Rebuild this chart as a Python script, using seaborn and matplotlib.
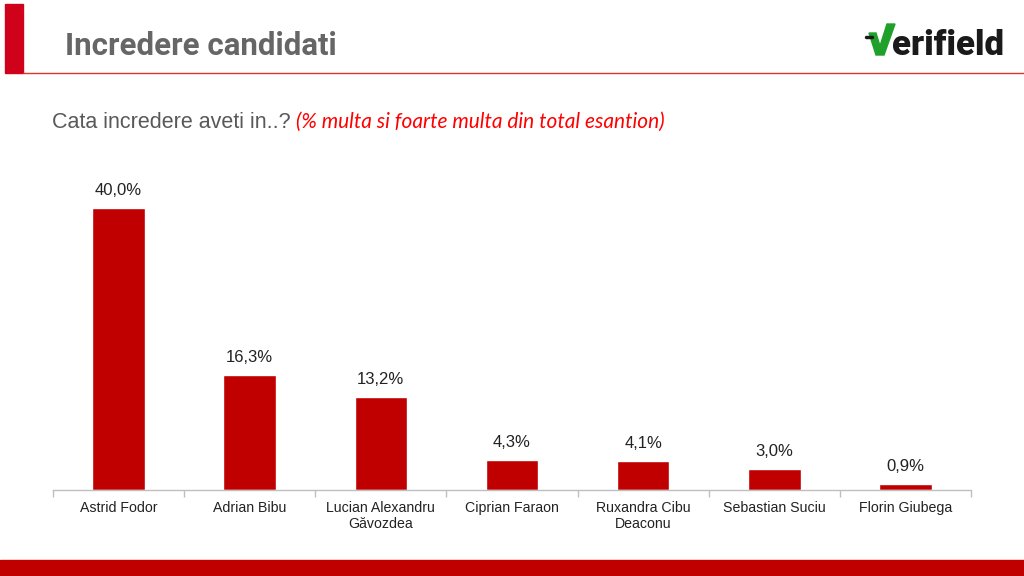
import matplotlib.pyplot as plt
import matplotlib.patches as mpatches
import numpy as np
import pandas as pd
import seaborn as sns

sns.set_theme(style="white")
plt.rcParams['font.family'] = ['Liberation Sans', 'DejaVu Sans']

# Data
candidates = [
    'Astrid Fodor',
    'Adrian Bibu',
    'Lucian Alexandru\nGăvozdea',
    'Ciprian Faraon',
    'Ruxandra Cibu\nDeaconu',
    'Sebastian Suciu',
    'Florin Giubega',
]
trust = [40.0, 16.3, 13.2, 4.3, 4.1, 3.0, 0.9]

df = pd.DataFrame({'Candidat': candidates, 'Incredere': trust})

red = '#c00000'
W, H = 1024, 576


def fx(x):
    return x / W


def fy(y):
    return 1 - y / H


fig = plt.figure(figsize=(10.24, 5.76), dpi=100)
ax = fig.add_axes([fx(53), 86 / H, 918 / W, 317 / H])

sns.barplot(data=df, x='Candidat', y='Incredere', color=red, width=0.4,
            saturation=1, ax=ax)

# value labels
for i, v in enumerate(trust):
    ax.text(i, v + 1.4, f"{v:.1f}%".replace('.', ','), ha='center', va='bottom',
            fontsize=12, color='#222222')

ax.set_ylim(0, 45)
ax.set_xlim(-0.5, len(candidates) - 0.5)
ax.set_xlabel('')
ax.set_ylabel('')
ax.set_yticks([])
for s in ['top', 'right', 'left']:
    ax.spines[s].set_visible(False)
ax.spines['bottom'].set_color('#bfbfbf')
ax.spines['bottom'].set_linewidth(1)
ax.tick_params(axis='x', which='major', length=0, labelsize=10.2,
               labelcolor='#222222', pad=8)
for lbl in ax.get_xticklabels():
    lbl.set_linespacing(1.15)
ax.set_xticks(np.arange(-0.5, len(candidates)), minor=True)
ax.tick_params(axis='x', which='minor', length=5, color='#bfbfbf', width=1,
               bottom=True)

# header decoration
fig.patches.append(mpatches.Rectangle((fx(5), fy(73)), 18 / W, 69 / H,
                                      transform=fig.transFigure, color='#d0021b'))
fig.add_artist(plt.Line2D([fx(23), 1], [fy(73), fy(73)],
                          transform=fig.transFigure, color='#e03030', lw=1))
fig.patches.append(mpatches.Rectangle((0, 0), 1, 16 / H,
                                      transform=fig.transFigure, color=red))

fig.text(fx(65), fy(55), 'Incredere candidati', fontsize=22.5,
         fontweight='bold', color='#666666', family='Roboto', va='baseline')

# logo: green check + wordmark
check = [(869, 33), (876, 33), (880, 46), (887, 24), (895, 24), (884, 55), (876, 55)]
fig.patches.append(mpatches.Polygon([(fx(x), fy(y)) for x, y in check],
                                    closed=True, transform=fig.transFigure,
                                    color='#1ea02a'))
fig.add_artist(plt.Line2D([fx(866), fx(872)], [fy(37), fy(37)],
                          transform=fig.transFigure, color='#1a1a1a', lw=2.5))
fig.text(fx(892), fy(55), 'erifield', fontsize=25, fontweight='heavy',
         color='#1a1a1a', family='Roboto', va='baseline')

# subtitle
fig.text(fx(52), fy(122), 'Cata incredere aveti in..?', fontsize=15.5,
         color='#595959', va='center')
fig.text(fx(296), fy(122), '(% multa si foarte multa din total esantion)',
         fontsize=15, color='#ff0000', style='italic', family='Lato', va='center')

plt.savefig('out.png', dpi=100)
